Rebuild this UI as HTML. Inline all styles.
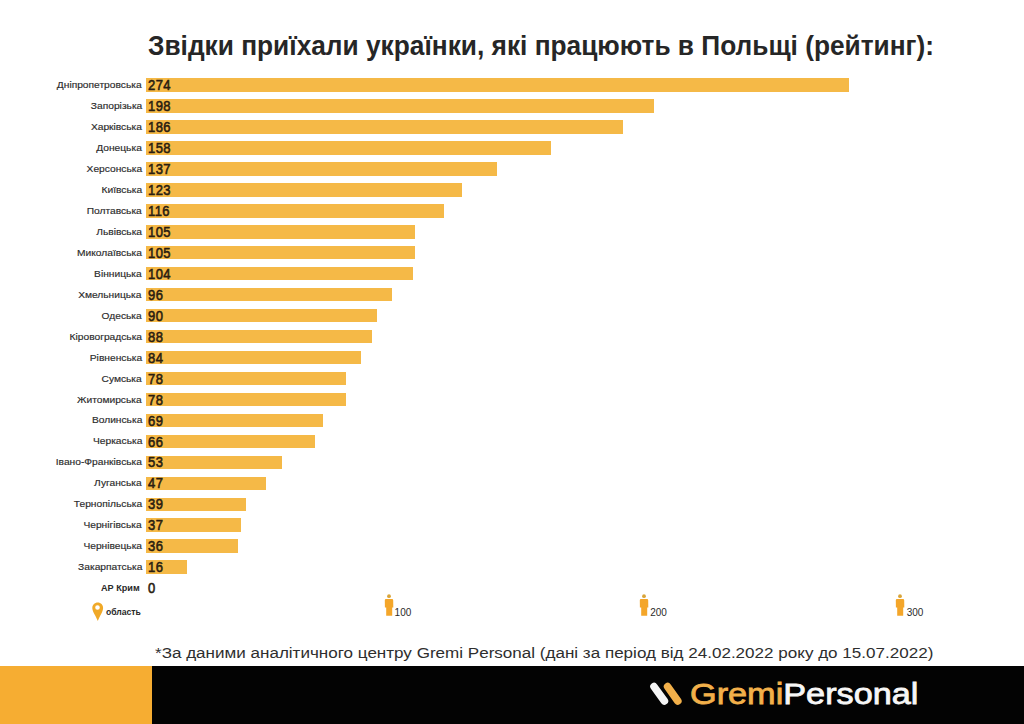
<!DOCTYPE html>
<html><head><meta charset="utf-8"><style>
html,body{margin:0;padding:0;}
body{width:1024px;height:724px;position:relative;overflow:hidden;background:#fff;font-family:"Liberation Sans",sans-serif;}
.t{position:absolute;white-space:nowrap;}
.title{position:absolute;left:148px;top:31px;font-size:27px;font-weight:bold;color:#262626;white-space:nowrap;transform-origin:0 0;transform:scaleX(0.973);}
.lab{position:absolute;right:882px;font-size:9.6px;line-height:16px;color:#2B2B2B;white-space:nowrap;transform:scaleX(1.065);transform-origin:100% 0;-webkit-text-stroke:0.15px currentColor;}
.lab.b{font-weight:bold;color:#2a2a2a;transform:none;-webkit-text-stroke:0;}
.bar{position:absolute;left:145.8px;height:13.5px;background:#F5B947;}
.num{position:absolute;left:147.6px;font-size:15px;line-height:16px;font-weight:normal;-webkit-text-stroke:0.6px currentColor;letter-spacing:0.5px;color:#2A1D10;transform:scaleX(0.865);transform-origin:0 0;white-space:nowrap;}
.pers{position:absolute;top:594px;}
.ax{position:absolute;top:606.9px;font-size:10px;line-height:12px;color:#2b2b2b;}
.foot{position:absolute;left:154.5px;top:642.5px;font-size:15.5px;transform:scaleX(1.1);line-height:20px;color:#2e2e2e;white-space:nowrap;transform-origin:0 0;}
.band{position:absolute;left:152px;top:666px;width:872px;height:58px;background:#030303;}
.ob{position:absolute;left:0;top:666px;width:152px;height:58px;background:#F6AD32;}
.logo{position:absolute;left:689.5px;top:675.8px;font-size:30px;line-height:36px;-webkit-text-stroke:0.8px currentColor;transform:scaleX(1.142);white-space:nowrap;transform-origin:0 0;}
</style></head><body>
<div class="title" id="title">Звідки приїхали українки, які працюють в Польщі (рейтинг):</div>
<div class="lab" style="top:77.10px">Дніпропетровська</div><div class="bar" style="top:78.30px;width:703.36px"></div><div class="num" style="top:77.20px">274</div><div class="lab" style="top:98.06px">Запорізька</div><div class="bar" style="top:99.26px;width:508.27px"></div><div class="num" style="top:98.16px">198</div><div class="lab" style="top:119.02px">Харківська</div><div class="bar" style="top:120.22px;width:477.46px"></div><div class="num" style="top:119.12px">186</div><div class="lab" style="top:139.98px">Донецька</div><div class="bar" style="top:141.18px;width:405.59px"></div><div class="num" style="top:140.08px">158</div><div class="lab" style="top:160.94px">Херсонська</div><div class="bar" style="top:162.14px;width:351.68px"></div><div class="num" style="top:161.04px">137</div><div class="lab" style="top:181.90px">Київська</div><div class="bar" style="top:183.10px;width:315.74px"></div><div class="num" style="top:182.00px">123</div><div class="lab" style="top:202.86px">Полтавська</div><div class="bar" style="top:204.06px;width:297.77px"></div><div class="num" style="top:202.96px">116</div><div class="lab" style="top:223.82px">Львівська</div><div class="bar" style="top:225.02px;width:269.54px"></div><div class="num" style="top:223.92px">105</div><div class="lab" style="top:244.78px">Миколаївська</div><div class="bar" style="top:245.98px;width:269.54px"></div><div class="num" style="top:244.88px">105</div><div class="lab" style="top:265.74px">Вінницька</div><div class="bar" style="top:266.94px;width:266.97px"></div><div class="num" style="top:265.84px">104</div><div class="lab" style="top:286.70px">Хмельницька</div><div class="bar" style="top:287.90px;width:246.43px"></div><div class="num" style="top:286.80px">96</div><div class="lab" style="top:307.66px">Одеська</div><div class="bar" style="top:308.86px;width:231.03px"></div><div class="num" style="top:307.76px">90</div><div class="lab" style="top:328.62px">Кіровоградська</div><div class="bar" style="top:329.82px;width:225.90px"></div><div class="num" style="top:328.72px">88</div><div class="lab" style="top:349.58px">Рівненська</div><div class="bar" style="top:350.78px;width:215.63px"></div><div class="num" style="top:349.68px">84</div><div class="lab" style="top:370.54px">Сумська</div><div class="bar" style="top:371.74px;width:200.23px"></div><div class="num" style="top:370.64px">78</div><div class="lab" style="top:391.50px">Житомирська</div><div class="bar" style="top:392.70px;width:200.23px"></div><div class="num" style="top:391.60px">78</div><div class="lab" style="top:412.46px">Волинська</div><div class="bar" style="top:413.66px;width:177.12px"></div><div class="num" style="top:412.56px">69</div><div class="lab" style="top:433.42px">Черкаська</div><div class="bar" style="top:434.62px;width:169.42px"></div><div class="num" style="top:433.52px">66</div><div class="lab" style="top:454.38px">Івано-Франківська</div><div class="bar" style="top:455.58px;width:136.05px"></div><div class="num" style="top:454.48px">53</div><div class="lab" style="top:475.34px">Луганська</div><div class="bar" style="top:476.54px;width:120.65px"></div><div class="num" style="top:475.44px">47</div><div class="lab" style="top:496.30px">Тернопільська</div><div class="bar" style="top:497.50px;width:100.11px"></div><div class="num" style="top:496.40px">39</div><div class="lab" style="top:517.26px">Чернігівська</div><div class="bar" style="top:518.46px;width:94.98px"></div><div class="num" style="top:517.36px">37</div><div class="lab" style="top:538.22px">Чернівецька</div><div class="bar" style="top:539.42px;width:92.41px"></div><div class="num" style="top:538.32px">36</div><div class="lab" style="top:559.18px">Закарпатська</div><div class="bar" style="top:560.38px;width:41.07px"></div><div class="num" style="top:559.28px">16</div><div class="lab b" style="top:580.14px;right:884px;transform:scaleX(0.95)">АР Крим</div><div class="num" style="top:580.24px">0</div>
<svg style="position:absolute;left:92px;top:602px" width="12" height="20" viewBox="0 0 12 20">
<path d="M5.8 0.4 C2.7 0.4 0.3 2.8 0.3 5.9 C0.3 9.4 3.5 13.2 5.8 19 C8.1 13.2 11.1 9.4 11.1 5.9 C11.1 2.8 8.9 0.4 5.8 0.4 Z M5.5 3.2 A2.3 2.3 0 1 1 5.5 7.8 A2.3 2.3 0 1 1 5.5 3.2 Z" fill="#F0A928" fill-rule="evenodd"/></svg>
<div class="lab b" style="top:604px;right:883.5px;transform:scaleX(0.9)">область</div>
<svg class="pers" style="left:383.6px" width="10" height="22" viewBox="0 0 10 22">
<circle cx="5" cy="2.2" r="1.9" fill="#D9A53A"/>
<path d="M2 4.9 H8 Q9.2 4.9 9.2 6.2 L9.3 13.5 H8.2 V21.8 H2.2 V13.5 H0.9 L0.8 6.2 Q0.8 4.9 2 4.9 Z" fill="#F4A62A"/></svg><div class="ax" style="left:394.6px">100</div>
<svg class="pers" style="left:639px" width="10" height="22" viewBox="0 0 10 22">
<circle cx="5" cy="2.2" r="1.9" fill="#D9A53A"/>
<path d="M2 4.9 H8 Q9.2 4.9 9.2 6.2 L9.3 13.5 H8.2 V21.8 H2.2 V13.5 H0.9 L0.8 6.2 Q0.8 4.9 2 4.9 Z" fill="#F4A62A"/></svg><div class="ax" style="left:650.2px">200</div>
<svg class="pers" style="left:895.3px" width="10" height="22" viewBox="0 0 10 22">
<circle cx="5" cy="2.2" r="1.9" fill="#D9A53A"/>
<path d="M2 4.9 H8 Q9.2 4.9 9.2 6.2 L9.3 13.5 H8.2 V21.8 H2.2 V13.5 H0.9 L0.8 6.2 Q0.8 4.9 2 4.9 Z" fill="#F4A62A"/></svg><div class="ax" style="left:906.7px">300</div>
<div class="foot" id="foot">*За даними аналітичного центру Gremi Personal (дані за період від 24.02.2022 року до 15.07.2022)</div>
<div class="ob"></div><div class="band"></div>
<svg style="position:absolute;left:645px;top:678px" width="45" height="32" viewBox="0 0 45 32">
<line x1="9.0" y1="8.6" x2="19.4" y2="23.0" stroke="#F4F4F4" stroke-width="7.6" stroke-linecap="round"/>
<line x1="22.6" y1="8.6" x2="32.8" y2="23.0" stroke="#F2B04A" stroke-width="7.6" stroke-linecap="round"/>
</svg>
<div class="logo" id="logo"><span style="color:#F2B04A">Gremi</span><span style="color:#F7F7F7">Personal</span></div>
</body></html>
